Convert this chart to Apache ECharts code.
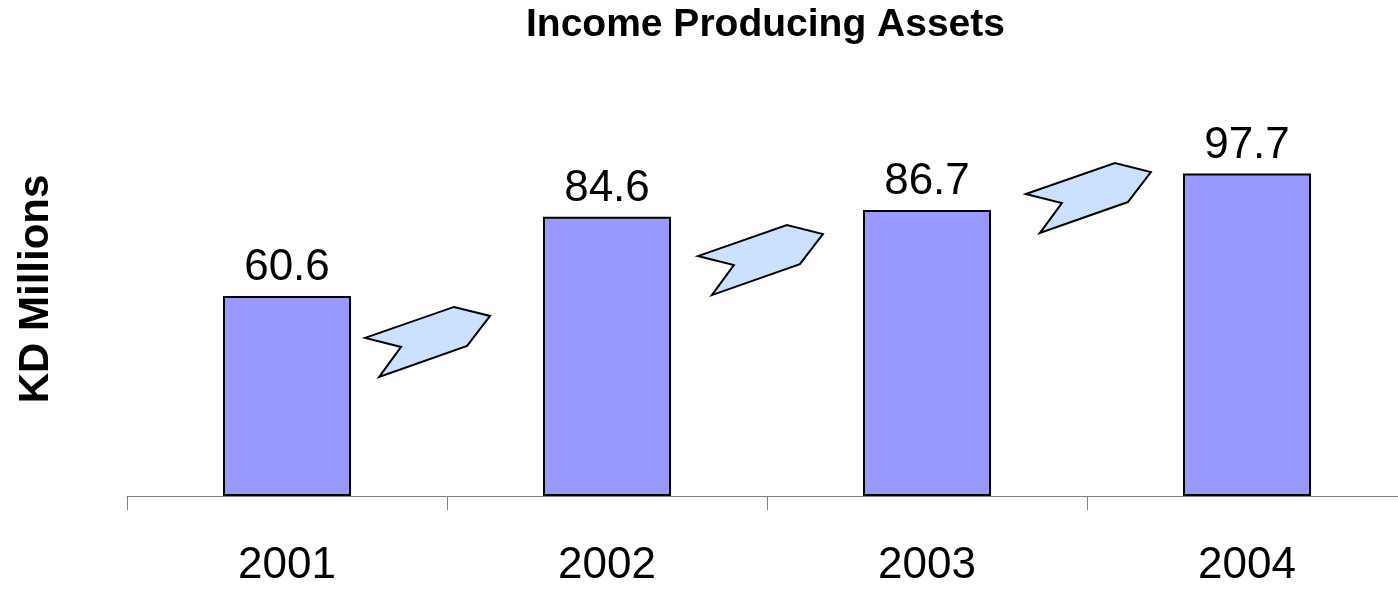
<!DOCTYPE html>
<html>
<head>
<meta charset="utf-8">
<title>Income Producing Assets</title>
<script src="https://cdn.jsdelivr.net/npm/echarts@6/dist/echarts.min.js"></script>
<style>
  html, body { margin: 0; padding: 0; background: #ffffff; overflow: hidden; }
  /* the last category band runs slightly past the right edge of the window */
  #chart { width: 1407px; height: 589px; }
</style>
</head>
<body>
<div id="chart"></div>
<script>
// Year categories and asset totals (KD millions)
const years = ['2001', '2002', '2003', '2004'];
const assets = [60.6, 84.6, 86.7, 97.7];

// Growth arrows drawn between consecutive bars: [category index, value level of the notch]
const arrowAnchors = [[0, 47.9], [1, 72.7], [2, 91.5]];

// Layout of the arrow decoration (pixels / band fractions)
const arrowShift = [0.244, 0.284, 0.309];
const arrowShape = [[0, 0], [89, -31], [125, -22], [102, 8], [14, 39], [36, 9]];

const FONT = "'Liberation Sans', Arial, Helvetica, sans-serif";

const chart = echarts.init(document.getElementById('chart'), null, { renderer: 'canvas' });

chart.setOption({
  animation: false,
  backgroundColor: '#ffffff',
  title: {
    text: 'Income Producing Assets',
    left: 521,
    top: 1,
    textStyle: { fontFamily: FONT, fontWeight: 'bold', fontSize: 39, color: '#000000' }
  },
  graphic: [{
    type: 'text',
    x: 36,
    y: 289,
    rotation: Math.PI / 2,
    style: {
      text: 'KD Millions',
      font: "bold 42px 'Liberation Sans', Arial, sans-serif",
      fill: '#000000',
      align: 'center',
      verticalAlign: 'middle'
    }
  }],
  grid: { left: 127, right: 0, top: 166, bottom: 93 },
  xAxis: {
    type: 'category',
    data: years,
    boundaryGap: true,
    axisLine: { lineStyle: { color: '#808080', width: 1 } },
    axisTick: { show: true, length: 14, lineStyle: { color: '#808080', width: 1 } },
    axisLabel: { margin: 48, fontFamily: FONT, fontSize: 44, color: '#000000' }
  },
  yAxis: {
    type: 'value',
    min: 0,
    max: 100,
    show: false,
    splitLine: { show: false }
  },
  series: [
    {
      type: 'bar',
      data: assets,
      barWidth: 128,
      itemStyle: { color: '#9999FF', borderColor: '#000000', borderWidth: 2 },
      label: {
        show: true,
        position: 'top',
        distance: 6,
        fontFamily: FONT,
        fontSize: 44,
        color: '#000000',
        formatter: p => p.value.toFixed(1)
      }
    },
    {
      type: 'custom',
      data: arrowAnchors,
      z: 3,
      renderItem: function (params, api) {
        const c = api.coord([api.value(0), api.value(1)]);
        const band = api.size([1, 0])[0];
        const x0 = c[0] + arrowShift[params.dataIndex] * band;
        const y0 = c[1];
        return {
          type: 'polygon',
          shape: { points: arrowShape.map(p => [x0 + p[0], y0 + p[1]]) },
          style: { fill: '#CCE0FF', stroke: '#000000', lineWidth: 2 }
        };
      }
    }
  ]
});
</script>
</body>
</html>
